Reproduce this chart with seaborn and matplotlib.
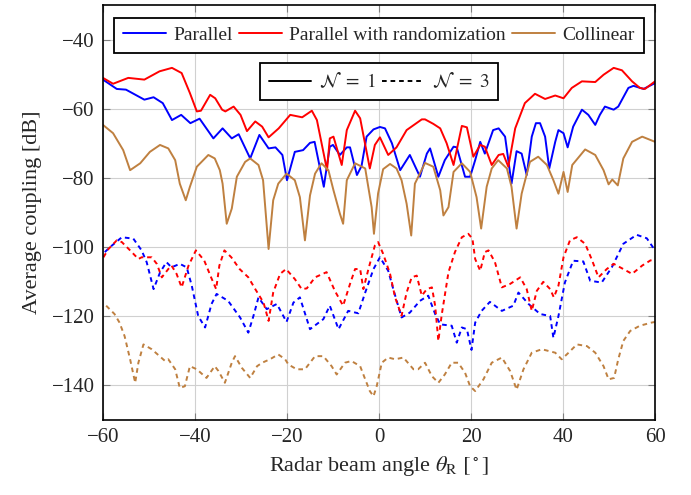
import matplotlib
matplotlib.use('Agg')
import matplotlib.pyplot as plt
from matplotlib.lines import Line2D
import seaborn as sns

sns.set_style('ticks')
plt.rcParams.update({
    'font.family': ['Liberation Serif', 'DejaVu Serif'],
    'mathtext.fontset': 'stix',
    'font.size': 14,
    'axes.unicode_minus': True,
})

# ── Data (beam angle in deg, coupling in dB) ────────────────────────────
par1_x = [-60, -57, -55, -51, -49, -47, -45, -43, -41, -39, -36, -34, -32, -30.5, -28, -26, -24,
          -22.5, -21, -20, -18.3, -16.5, -15, -14, -12, -10.7, -10, -8.5, -7, -6.3, -4.8, -3.8,
          -2.7, -1.2, 0.2, 1.3, 2.8, 4.6, 6.7, 8.9, 10.4, 11.1, 12.9, 14.3, 16.2, 16.9, 18.7, 19.8,
          20.9, 22, 23, 24.8, 26, 27.4, 28.8, 29.9, 31, 32.1, 33.2, 34.1, 35, 36.1, 37, 38.3, 39,
          40.1, 41, 42.2, 44.1, 45.5, 47, 48, 49.1, 51, 52, 54.2, 55.3, 57.5, 60]
par1_y = [-51.6, -54.3, -54.5, -57.4, -56.7, -58.4, -63.3, -61.8, -64.2, -62.9, -68.6, -65.7, -68.6,
          -67.4, -74.4, -67.6, -71.5, -71.2, -73.4, -80.7, -72.5, -72, -69.9, -69.6, -82.6, -71,
          -70.5, -73.4, -71.2, -71.2, -79.2, -76.6, -68.1, -66, -65.3, -65.7, -70, -77.8, -73.4,
          -79.7, -73, -71.5, -79.7, -74.9, -71, -71.2, -79.7, -79.7, -74.9, -69.6, -73, -66.2,
          -65.7, -68.1, -81.7, -72.3, -73, -79.2, -68.1, -64.2, -64.2, -68.1, -77.3, -69.6, -66.2,
          -67.1, -71.2, -65.2, -60.3, -61.8, -64.7, -61.8, -59.4, -60.3, -59.4, -54, -53.4, -54.3,
          -52.6]

rnd1_x = [-60, -57.8, -54.5, -51, -47.7, -45, -42.9, -41.1, -39.6, -38.7, -36.7, -35.6, -34.1,
          -33.4, -31.6, -30.1, -28.7, -26.9, -25.4, -24, -21.8, -19.3, -16.7, -14.6, -13.5, -11.3,
          -10.7, -9.9, -8.1, -7, -5.2, -4.1, -2, -0.9, 0.2, 2, 3.8, 6, 9.3, 10, 11.8, 13.3, 14.7,
          16.2, 18, 19.1, 20.5, 22, 23, 24.5, 26, 27, 28.1, 29.6, 31.7, 33.9, 36.1, 38.3, 40.1,
          41.9, 44.1, 47, 48.8, 51, 52.8, 55, 56.7, 57.8, 60]
rnd1_y = [-51.1, -52.8, -51.1, -51.6, -49.2, -48.2, -49.7, -55.5, -60.8, -60.6, -56, -57, -60.3,
          -60.8, -59.4, -61.8, -66.5, -63.7, -65.2, -68.3, -65.7, -61.8, -62.5, -60.6, -63.3,
          -77.8, -68.6, -68.1, -76.3, -66.2, -60.6, -62.8, -77.3, -70.5, -68.3, -73.4, -71.2,
          -66.2, -63.1, -63.1, -64.4, -65.7, -70, -76.3, -65, -65.4, -73.9, -70.5, -71, -76.3,
          -73.4, -73.1, -76.8, -65.7, -58.4, -55.7, -57.2, -56.2, -57, -54, -52.1, -52.3, -50.2,
          -48.2, -48.9, -52.1, -54, -54.3, -52.1]

col1_x = [-60, -57.8, -55.6, -54.1, -51.9, -49.8, -47.6, -45.8, -44.3, -43.3, -42, -41.1, -39.6,
          -37.1, -35.7, -34.6, -34, -33.1, -32, -30.9, -29.1, -28, -26.2, -25.2, -24, -23, -21.9,
          -20.1, -18.3, -17.2, -16.1, -15, -13.9, -12.5, -11, -9.9, -8.5, -7.8, -7, -5.2, -3,
          -1.6, -1.1, -0.2, 0.9, 2.4, 3.8, 4.9, 6, 7, 7.8, 10, 11.8, 13.3, 14, 15.1, 16.2, 18,
          19.8, 21.2, 22.2, 23.4, 24.5, 25.9, 27.8, 28.8, 29.9, 31, 32.8, 34.6, 36.5, 37.9, 39,
          40.1, 41, 42, 44.8, 47, 48.8, 49.9, 50.7, 51.9, 53.1, 55, 57.2, 60]
col1_y = [-64.7, -67.1, -72, -77.8, -75.8, -72.5, -70.5, -71.5, -74.9, -81.7, -86.5, -82.6, -76.8,
          -73.4, -74.4, -77.8, -81.7, -93.3, -88.9, -79.7, -75.4, -74.4, -76.3, -80.7, -100.6,
          -86.5, -81.7, -78.8, -80.7, -85.6, -98.1, -85.1, -78.8, -75.8, -77.8, -83.6, -90.4,
          -93.3, -80.7, -75.8, -77.3, -88.5, -96.2, -84.5, -77.5, -76, -77.3, -80.7, -87.5, -96.7,
          -81.7, -75.7, -76.8, -83.6, -90.9, -88.5, -78.3, -75.8, -78.3, -85.6, -94.7, -82.6,
          -77.3, -74.9, -77.3, -82.6, -94.7, -84.6, -75.4, -73.9, -76.3, -80.7, -84.6, -78.3,
          -84.1, -76.3, -71.8, -73.4, -77.8, -81.9, -80.5, -82.2, -74.4, -69.6, -68.1, -69.6]

par3_x = [-59.6, -58.5, -55.9, -53.4, -51.6, -50.5, -49, -47.6, -46.2, -45.1, -43.3, -41.8, -40.7,
          -39.3, -37.8, -36.4, -35.3, -32.8, -30.2, -28.4, -27.3, -26.2, -24.4, -22.2, -20.1,
          -18.6, -17.2, -15, -12.1, -10.7, -8.8, -6.7, -4.5, -3, -1.2, 0.2, 2, 3.1, 4.9, 6.7, 8.9,
          10.7, 12.2, 13.3, 15.8, 16.9, 18, 19.1, 20.1, 20.9, 22.3, 24.1, 26.7, 29.2, 30.3, 32.5,
          35, 37.2, 37.9, 39, 40.4, 42.2, 44.4, 45.9, 48.4, 50.6, 53.1, 56, 58.2, 60]
par3_y = [-101.5, -100.1, -97.2, -97.6, -101, -104.4, -112.2, -107.4, -104.4, -105.9, -104.9,
          -105.9, -111.2, -120, -123.3, -116.5, -113.6, -115.6, -120.4, -124.8, -120, -114.6,
          -118, -116.5, -121.7, -116.1, -114.6, -123.8, -120.9, -117, -123.8, -118.5, -119.2,
          -113.2, -106.4, -103, -106.9, -112.2, -120.4, -119, -115.6, -114.1, -119.4, -122.4,
          -122.8, -127.7, -123.3, -123.8, -129.8, -121.9, -118.5, -115.9, -118.5, -117, -113.2,
          -116.5, -119.4, -120, -126.3, -120, -110.3, -104, -104.2, -109.8, -110.3, -105.9, -99.1,
          -96.5, -97.5, -101]

rnd3_x = [-59.9, -58.8, -57, -55.9, -54.1, -52.3, -51.6, -49.4, -48.3, -47.2, -45.8, -45.1, -44,
          -42.9, -41.4, -39.8, -38, -36.5, -35.4, -34.7, -33.6, -32.1, -30.3, -28.4, -26.9, -25.1,
          -24, -23, -21.5, -20.2, -18.3, -16.8, -15.7, -13.9, -11.4, -9.6, -7.8, -6.3, -5.2, -4.1,
          -3.4, -2.3, -0.9, -0.2, 0.9, 2.4, 3.5, 4.9, 6, 7.1, 8.2, 9.3, 10.4, 11.5, 12.2, 12.9,
          13.6, 15.1, 16.5, 18, 19.4, 20.3, 20.9, 22, 23, 23.8, 25.2, 26.7, 28.5, 30.7, 32.1, 33.2,
          34.3, 35.7, 37.2, 38, 39, 40.1, 41.5, 43, 44.8, 46.2, 47.7, 49.5, 51, 53.1, 55, 57.2,
          59, 60]
rnd3_y = [-103, -100.6, -98.1, -98.6, -101, -103.5, -103, -103, -104.9, -108.8, -106.4, -105.4,
          -107.8, -111.7, -105.4, -101, -103.9, -108.8, -112.2, -105.4, -101, -103, -106.4,
          -108.8, -112.2, -116.1, -121.4, -113.2, -107.8, -106.4, -109.3, -112.2, -112, -108.8,
          -107.3, -112.7, -117, -110.7, -106.4, -106.4, -112.2, -106.4, -99.6, -98.6, -102,
          -107.8, -114.6, -119.9, -113.2, -108.8, -108.3, -114.1, -112.2, -111.7, -117, -127.2,
          -119.9, -107.3, -101.5, -97.2, -96.2, -97.6, -103.5, -106.9, -101.5, -101, -104.4,
          -111.7, -110.7, -108.8, -112.2, -118.5, -112.7, -110.1, -112.2, -114.6, -111.2, -103,
          -98.1, -97.2, -99.1, -103.5, -108.8, -106.4, -104.9, -106.4, -107.8, -105.4, -103.9,
          -103.7]

col3_x = [-59.3, -57.5, -56.4, -55.3, -54.1, -53, -52.3, -51.2, -49.4, -46.5, -45.8, -44.3, -43.3,
          -42.2, -41.1, -39.6, -37.5, -35.7, -34.9, -33.5, -32, -31.3, -29.8, -28, -26.5, -25.4,
          -23.7, -21.9, -20.4, -19.7, -17.9, -16.1, -13.9, -12.1, -10.3, -9.2, -7.4, -6, -4.1,
          -3, -2, -1.2, -0.5, 0.6, 2, 3.5, 5.3, 7.5, 8.5, 10, 11.5, 12.9, 14.3, 15.8, 17.2, 18.7,
          19.8, 20.9, 22.7, 24.5, 26.7, 28.5, 29.9, 31.4, 33.2, 35.4, 38.3, 39.7, 41.2, 43, 45.2,
          47, 48.8, 49.9, 51.1, 52, 53.1, 54.6, 56.7, 59.2, 60]
col3_y = [-117, -119.4, -121.9, -125.8, -132.5, -139.3, -133.5, -128.2, -129.6, -133, -132.5,
          -135.4, -140.8, -140.3, -134.5, -135.4, -137.9, -134.5, -135.9, -139.3, -133.5, -131.6,
          -135, -137.9, -134.5, -133.5, -132.5, -131.1, -132.5, -134, -135.4, -135.4, -131.6,
          -131.6, -134.5, -136.9, -133.5, -133, -134.5, -138.3, -141.7, -143.2, -140.3, -133.5,
          -132, -132.5, -132, -135.4, -135.4, -133.5, -137.4, -139.3, -136.9, -133.5, -133.5,
          -136.4, -140.3, -141.7, -138.3, -133.5, -132, -135.9, -141.3, -135.4, -130.6, -129.6,
          -130.6, -132.5, -130.6, -128.2, -128.7, -130.6, -134.5, -138.3, -137.9, -132.5, -127.2,
          -124.3, -122.8, -121.9, -121.7]

BLUE, RED, BROWN = '#0000FF', '#FF0000', '#BF8040'
DASH = (0, (2.4, 2.0))
LW = 1.4

fig, ax = plt.subplots(figsize=(6.91, 4.95), dpi=100)
fig.subplots_adjust(left=0.149, right=0.948, top=0.990, bottom=0.152)

series = [
    (par1_x, par1_y, BLUE, '-'), (rnd1_x, rnd1_y, RED, '-'), (col1_x, col1_y, BROWN, '-'),
    (par3_x, par3_y, BLUE, DASH), (rnd3_x, rnd3_y, RED, DASH), (col3_x, col3_y, BROWN, DASH),
]
for xs, ys, c, ls in series:
    sns.lineplot(x=xs, y=ys, color=c, linewidth=LW, linestyle=ls, sort=False,
                 estimator=None, ax=ax)

ax.set_xlim(-60, 60)
ax.set_ylim(-150, -30)
ax.set_xticks(range(-60, 61, 20))
ax.set_yticks(range(-140, -39, 20))
ax.grid(True, color='#d0d0d0', linewidth=0.8)
ax.tick_params(direction='in', top=True, right=True, length=5, color='#808080',
               labelsize=15, pad=6)
for sp in ax.spines.values():
    sp.set_linewidth(1.2)
    sp.set_color('black')
ax.set_xlabel(r'Radar beam angle $\theta_{\mathrm{R}}$ $[^\circ]$', fontsize=16, labelpad=5)
ax.set_ylabel('Average coupling [dB]', fontsize=16, labelpad=7)

leg_kw = dict(frameon=True, fancybox=False, framealpha=1, edgecolor='black',
              fontsize=14, handlelength=2.2, handletextpad=0.4, columnspacing=0.3,
              borderpad=0.45, borderaxespad=0)
h1 = [Line2D([], [], color=c, lw=LW) for c in (BLUE, RED, BROWN)]
leg1 = ax.legend(h1, ['Parallel', 'Parallel with randomization', 'Collinear'], ncol=3,
                 loc='upper center', bbox_to_anchor=(0.5, 0.969), **leg_kw)
leg1.get_frame().set_linewidth(1.3)
ax.add_artist(leg1)
h2 = [Line2D([], [], color='black', lw=LW), Line2D([], [], color='black', lw=LW, ls=DASH)]
leg2 = ax.legend(h2, [r'$\mathcal{N}\ =\ 1$', r'$\mathcal{N}\ =\ 3$'], ncol=2,
                 loc='upper center', bbox_to_anchor=(0.5, 0.860), **leg_kw)
leg2.get_frame().set_linewidth(1.3)

fig.savefig('out.png', dpi=100)
